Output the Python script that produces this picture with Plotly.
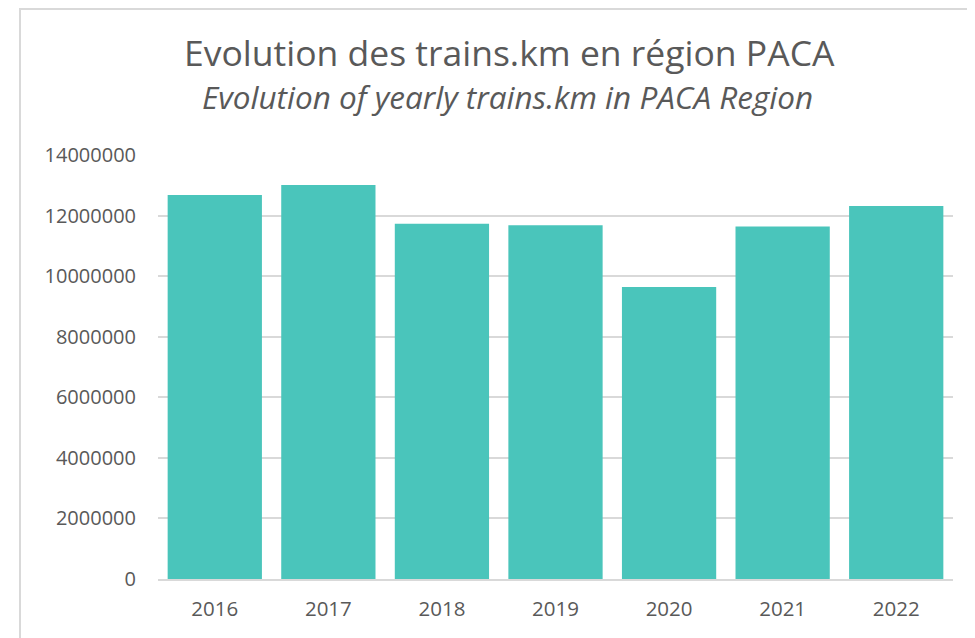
import plotly.graph_objects as go

years = ["2016", "2017", "2018", "2019", "2020", "2021", "2022"]
trains_km = [12680000, 13010000, 11730000, 11680000, 9640000, 11640000, 12320000]
y_ticks = [0, 2000000, 4000000, 6000000, 8000000, 10000000, 12000000, 14000000]

title_fr = "Evolution des trains.km en région PACA"
title_en = "Evolution of yearly trains.km in PACA Region"

FONT = "Open Sans, sans-serif"
GREY = "#595959"

W, H = 967, 630
L, R, T, B = 150, 22, 147, 59
PW, PH = W - L - R, H - T - B


def px_x(x):
    return (x - L) / PW


def px_y(y):
    return (H - B - y) / PH


fig = go.Figure(go.Bar(
    x=years, y=trains_km,
    marker=dict(color="#4AC5BB", line=dict(width=0)),
))

fig.update_layout(
    width=W, height=H,
    paper_bgcolor="white", plot_bgcolor="white",
    margin=dict(l=L, r=R, t=T, b=B),
    bargap=0.17,
    showlegend=False,
    font=dict(family=FONT, color=GREY),
    xaxis=dict(type="category", showgrid=False, ticks="", showline=True,
               linecolor="#D9D9D9", linewidth=2, ticklabelstandoff=10,
               tickfont=dict(size=20.5, color=GREY, family=FONT)),
    yaxis=dict(range=[0, 14000000], tickvals=y_ticks,
               ticktext=[str(v) for v in y_ticks],
               showgrid=True, gridcolor="#D9D9D9", gridwidth=2,
               zeroline=False, ticks="", ticklabelstandoff=21,
               tickfont=dict(size=20, color=GREY, family=FONT)),
    annotations=[
        dict(text=title_fr, x=px_x(501), y=px_y(43.5), xref="paper", yref="paper",
             xanchor="center", yanchor="middle", showarrow=False,
             font=dict(size=35.5, color=GREY, family=FONT)),
        dict(text="<i>" + title_en + "</i>", x=px_x(499.5), y=px_y(89),
             xref="paper", yref="paper", xanchor="center", yanchor="middle",
             showarrow=False, font=dict(size=31.5, color=GREY, family=FONT)),
    ],
)

# light frame lines (top and left) as in the reference crop
fig.add_shape(type="line", xref="paper", yref="paper",
              x0=px_x(12), x1=px_x(W), y0=px_y(1), y1=px_y(1),
              line=dict(color="#D9D9D9", width=2))
fig.add_shape(type="line", xref="paper", yref="paper",
              x0=px_x(12), x1=px_x(12), y0=px_y(0), y1=px_y(H),
              line=dict(color="#D9D9D9", width=2))

fig.write_html("out.html")
